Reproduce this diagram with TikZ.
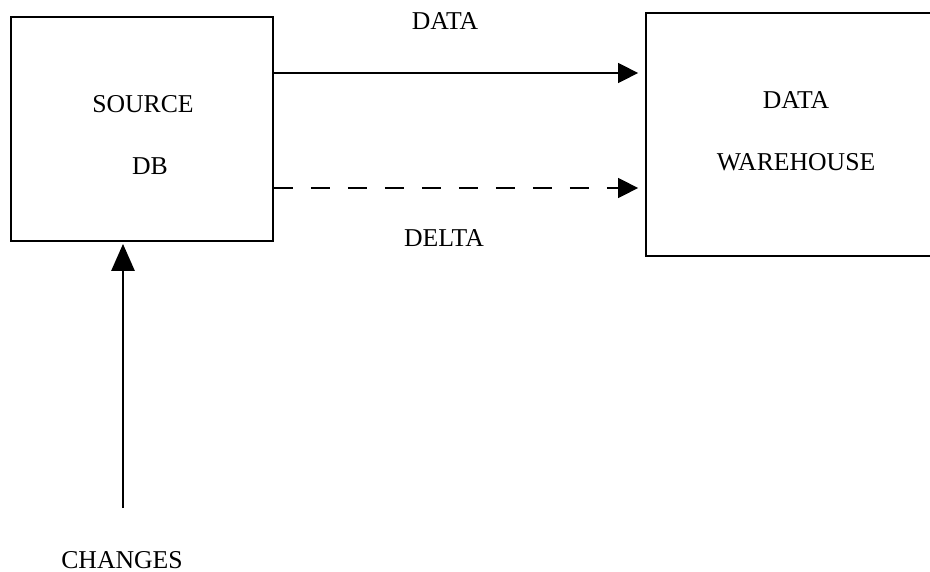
\documentclass[tikz,border=0pt]{standalone}
\usepackage{fontspec}
\setmainfont{Liberation Serif}
\usetikzlibrary{arrows.meta}
\begin{document}
\begin{tikzpicture}[x=1pt,y=-1pt,
  box/.style={draw, line width=1.8pt, inner sep=0pt},
  lbl/.style={inner sep=0pt, font=\fontsize{25.7}{30}\selectfont},
  flow/.style={line width=1.5pt, -{Triangle[length=20pt,width=20pt]}},
  feed/.style={line width=2.8pt, -{Triangle[length=27pt,width=23pt]}}]
  \useasboundingbox (0,0) rectangle (930,571);

  % boxes
  \node[box, minimum width=262pt, minimum height=224pt] (src) at (142,129) {};
  \node[box, minimum width=300pt, minimum height=243pt] (wh) at (796,134.5) {};

  % box texts
  \node[lbl] (srcA) at (143,104) {SOURCE};
  \node[lbl] (srcB) at (150,166) {DB};
  \node[lbl] (whA) at (796,100) {DATA};
  \node[lbl] (whB) at (796,162) {WAREHOUSE};

  % flow labels
  \node[lbl] (ldata) at (445,21) {DATA};
  \node[lbl] (ldelta) at (444,238) {DELTA};
  \node[lbl] (lchg) at (122,560) {CHANGES};

  % full data transfer
  \draw[flow, shorten >=7pt] (src.east |- 0,73) -- (wh.west |- 0,73);
  % incremental transfer
  \draw[flow, dash pattern=on 19pt off 18pt, shorten >=7pt] (src.east |- 0,188) -- (wh.west |- 0,188);
  % changes feeding the source
  \coordinate (chg) at (123,508);
  \draw[feed, shorten >=2pt] (chg) -- (src.south -| chg);
\end{tikzpicture}
\end{document}
